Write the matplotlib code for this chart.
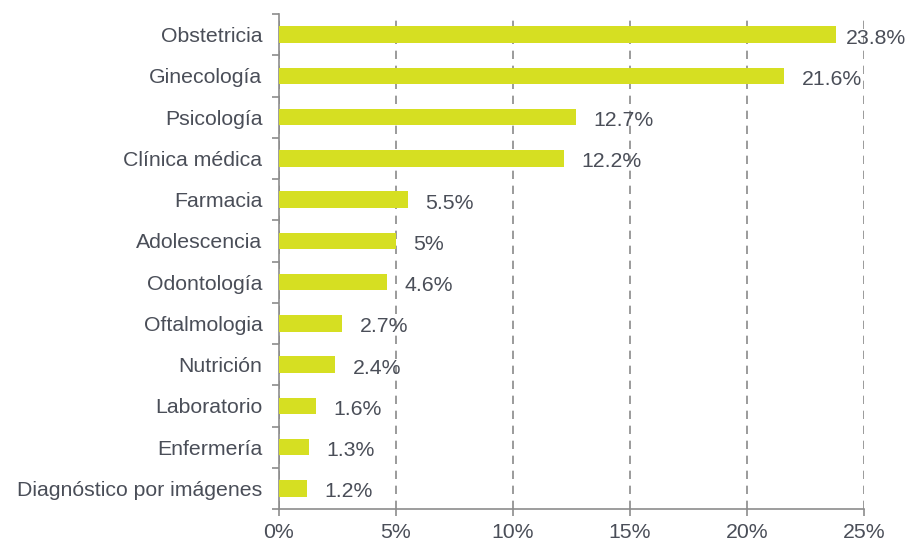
import matplotlib
matplotlib.use("Agg")
import matplotlib.pyplot as plt
from matplotlib.ticker import FixedLocator, PercentFormatter

plt.rcParams['font.family'] = ['Liberation Sans', 'DejaVu Sans']

categories = ["Obstetricia", "Ginecología", "Psicología", "Clínica médica", "Farmacia",
              "Adolescencia", "Odontología", "Oftalmologia", "Nutrición", "Laboratorio",
              "Enfermería", "Diagnóstico por imágenes"]
values = [23.8, 21.6, 12.7, 12.2, 5.5, 5, 4.6, 2.7, 2.4, 1.6, 1.3, 1.2]
xticks = [0, 5, 10, 15, 20, 25]

bar_color = "#d6df22"
text_color = "#4a4e58"
axis_color = "#8c8c8c"
fs = 15.3

fig = plt.figure(figsize=(9.08, 5.44), dpi=100)
ax = fig.add_axes([279/908, 1-509/544, (864-279)/908, (509-14)/544])

n = len(categories)
ypos = list(range(n))
ax.barh(ypos, values, height=0.4, color=bar_color, zorder=3)
ax.set_ylim(n - 0.5, -0.5)
ax.set_xlim(0, 25)

ax.set_yticks(ypos)
ax.set_yticklabels(categories)
ax.yaxis.set_minor_locator(FixedLocator([i - 0.5 for i in range(n + 1)]))
ax.tick_params(axis='y', which='major', length=0, pad=12, labelsize=fs, labelcolor=text_color)
ax.tick_params(axis='y', which='minor', length=5, color=axis_color, width=1.2)

ax.set_xticks(xticks)
ax.xaxis.set_major_formatter(PercentFormatter(decimals=0))
ax.tick_params(axis='x', length=5, color=axis_color, width=1.2, labelsize=fs,
               labelcolor=text_color, pad=5)

ax.grid(axis='x', linestyle=(0, (5, 4)), color="#8a8a8a", linewidth=1.2, zorder=0)
for s in ['top', 'right']:
    ax.spines[s].set_visible(False)
for s in ['left', 'bottom']:
    ax.spines[s].set_color(axis_color)
    ax.spines[s].set_linewidth(1.2)

labels = []
for y, v in zip(ypos, values):
    t = ax.annotate(f"{v:g}%", (v, y), xytext=(12.5, -2.5), textcoords='offset points',
                    va='center', ha='left', fontsize=fs, color=text_color, zorder=4,
                    annotation_clip=False)
    labels.append((t, y, v))

# keep labels inside the figure: shift any that would overflow the right edge
fig.canvas.draw()
renderer = fig.canvas.get_renderer()
W = fig.bbox.width
for t, y, v in labels:
    bb = t.get_window_extent(renderer)
    if bb.x1 > W - 2:
        over_pt = (bb.x1 - (W - 2)) * 72 / fig.dpi
        t.xyann = (12.5 - over_pt, -2.5)

fig.savefig("out.png", dpi=100)
